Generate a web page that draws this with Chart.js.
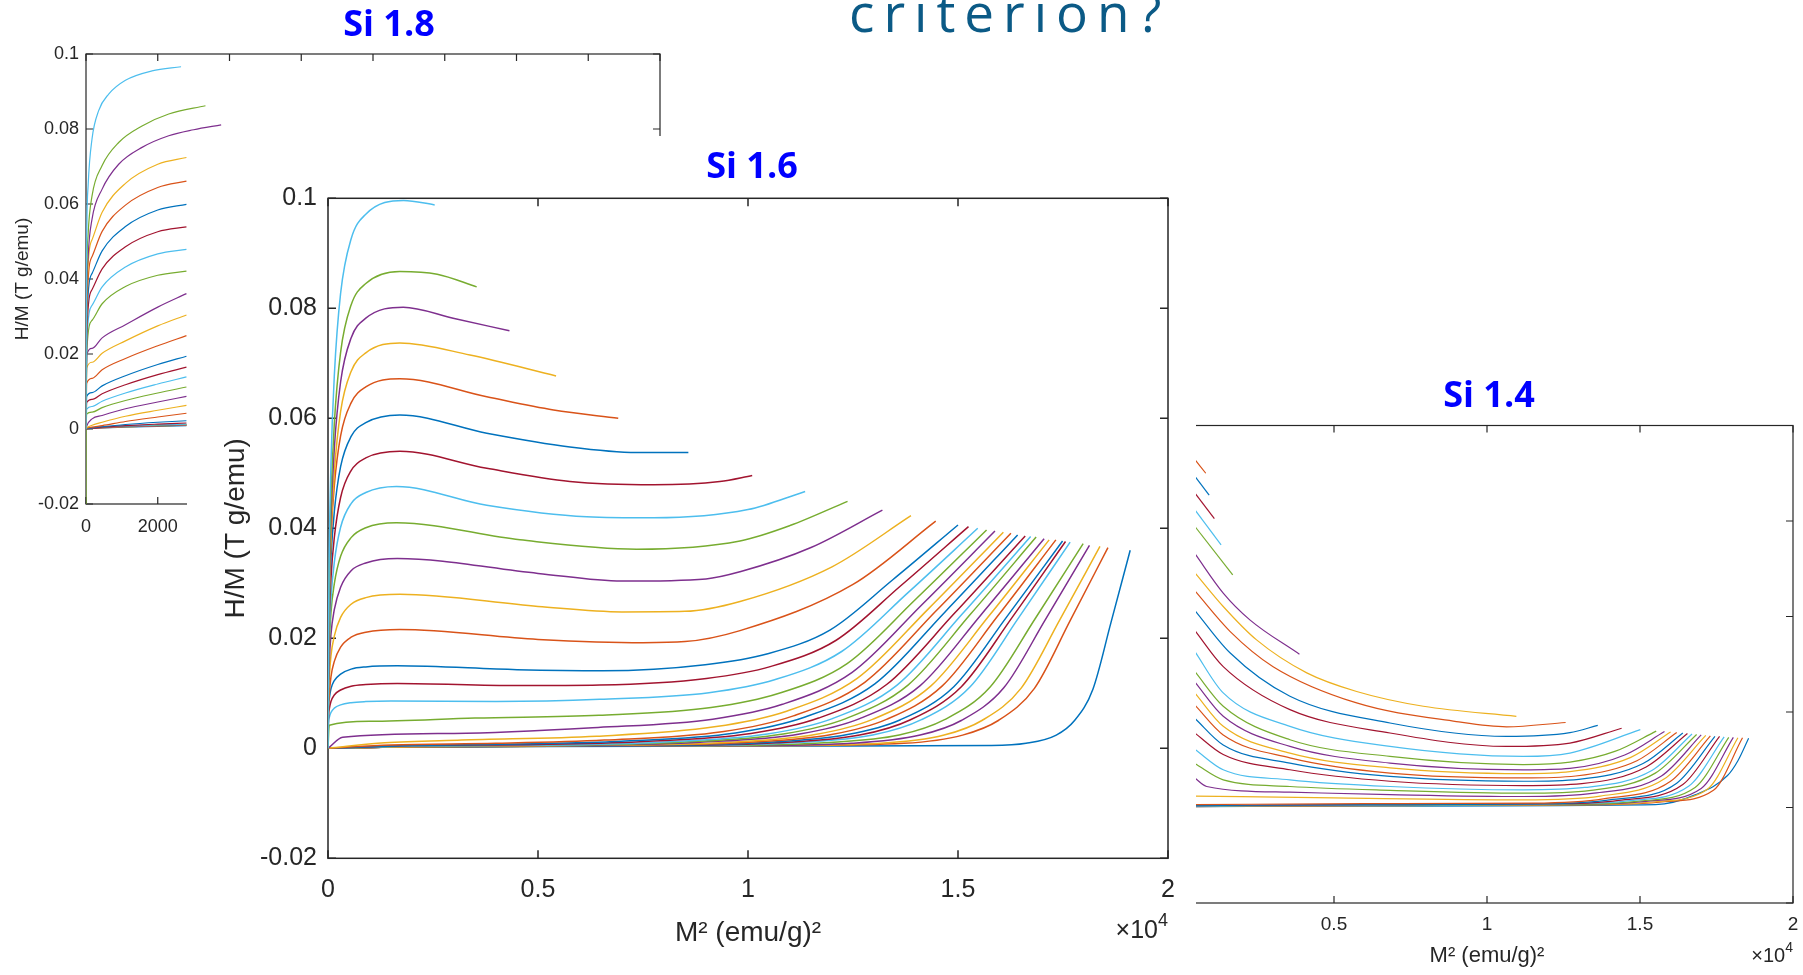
<!DOCTYPE html>
<html>
<head>
<meta charset="utf-8">
<title>Arrott plots - criterion?</title>
<script src="https://cdn.jsdelivr.net/npm/chart.js@4.4.1/dist/chart.umd.min.js"></script>
<style>
  html, body { margin: 0; padding: 0; background: #fff; }
  body { width: 1803px; height: 975px; position: relative; overflow: hidden; }
  .panel { position: absolute; background: #fff; overflow: hidden; }
  canvas { display: block; }
  #heading { position: absolute; left: 849px; top: -15px; font-family: 'Open Sans', sans-serif; font-size: 53px;
             line-height: 1; letter-spacing: 9px; color: #0b5a86; white-space: nowrap; }
</style>
</head>
<body>
<div id="heading">criterion?</div>
<div class="panel" style="left:0;top:0;width:778px;height:560px;z-index:1"><canvas id="c18" width="778" height="560"></canvas></div>
<div class="panel" style="left:187px;top:136px;width:1130px;height:839px;z-index:2"><canvas id="c16" width="1130" height="839"></canvas></div>
<div class="panel" style="left:1196px;top:370px;width:607px;height:605px;z-index:3"><canvas id="c14" width="778" height="605" style="position:absolute;left:-96px;top:0"></canvas></div>

<script>
// ---- data (curves listed from the top one downwards, as flat x,y pairs) ----

// Si 1.8 : x in (emu/g)^2, y in T g/emu
const si18XTicks = [0, 2000, 4000, 6000, 8000, 10000, 12000, 14000, 16000];
const si18YTicks = [-0.02, 0, 0.02, 0.04, 0.06, 0.08, 0.1];
const si18Curves = [
  [0,0, 15,0.045, 60,0.065, 167,0.0773, 353,0.0849, 632,0.0893, 1100,0.093, 1840,0.0955, 2650,0.0966],
  [0,0, 15,0.035, 60,0.052, 167,0.0621, 446,0.0702, 911,0.0764, 1562,0.0808, 2306,0.084, 3330,0.0862],
  [0,0, 15,0.03, 60,0.046, 167,0.0559, 446,0.0639, 911,0.0706, 1562,0.0751, 2306,0.0782, 3000,0.0798, 3767,0.0811],
  [0,0, 20,0.034, 170,0.0505, 450,0.0578, 1100,0.0655, 2000,0.0706, 2800,0.0724],
  [0,0, 20,0.031, 170,0.046, 450,0.0527, 1100,0.0597, 2000,0.0644, 2800,0.0661],
  [0,0, 20,0.028, 170,0.0415, 450,0.0475, 1100,0.054, 2000,0.0584, 2800,0.0599],
  [0,0, 20,0.025, 170,0.0372, 450,0.0427, 1100,0.0486, 2000,0.0526, 2800,0.0539],
  [0,0, 20,0.0225, 170,0.033, 450,0.0379, 1100,0.0432, 2000,0.0467, 2800,0.0479],
  [0,0, 20,0.0205, 170,0.029, 450,0.0334, 1100,0.038, 2000,0.041, 2800,0.0421],
  [0,0, 20,0.0198, 170,0.0215, 450,0.0243, 1100,0.0278, 2000,0.0325, 2800,0.0361],
  [0,0, 20,0.0163, 170,0.0178, 450,0.0202, 1100,0.0235, 2000,0.0275, 2800,0.0304],
  [0,0, 20,0.0122, 170,0.0135, 450,0.0158, 1100,0.0188, 2000,0.0222, 2800,0.0249],
  [0,0, 20,0.0087, 170,0.0097, 450,0.0115, 1100,0.0142, 2000,0.0172, 2800,0.0194],
  [0,0, 20,0.0071, 170,0.0079, 450,0.0094, 1100,0.0118, 2000,0.0145, 2800,0.0165],
  [0,0, 20,0.0053, 170,0.006, 450,0.0074, 1100,0.0096, 2000,0.012, 2800,0.0139],
  [0,0, 20,0.004, 170,0.0045, 450,0.0057, 1100,0.0076, 2000,0.0096, 2800,0.0112],
  [0,0, 20,0.0008, 170,0.0027, 450,0.0036, 1100,0.0054, 2000,0.0072, 2800,0.0087],
  [0,0, 20,0.0003, 170,0.001, 450,0.0018, 1100,0.0034, 2000,0.005, 2800,0.0063],
  [0,0, 20,0.0002, 170,0.0005, 450,0.0009, 1100,0.002, 2000,0.0032, 2800,0.0042],
  [0,0, 20,0.0001, 170,0.0003, 450,0.0006, 1100,0.0012, 2000,0.0018, 2800,0.0022],
  [0,0, 20,0.0001, 170,0.0002, 450,0.0005, 1100,0.0009, 2000,0.0013, 2800,0.0016],
  [0,0, 20,0.0001, 170,0.0003, 450,0.0005, 1100,0.0008, 2000,0.0011, 2800,0.0013],
  [0,-0.02, 1,0, 20,0.0001, 170,0.0003, 450,0.0005, 1100,0.0008, 2000,0.001, 2800,0.0012],
  [0,0, 20,0.0001, 170,0.0002, 450,0.0004, 1100,0.0007, 2000,0.0009, 2800,0.0011],
  [0,0, 20,0.0001, 170,0.0002, 450,0.0004, 1100,0.0006, 2000,0.0009, 2800,0.001],
  [0,0, 20,0.0001, 170,0.0002, 450,0.0003, 1100,0.0006, 2000,0.0008, 2800,0.001],
  [0,0, 20,0.0001, 170,0.0002, 450,0.0003, 1100,0.0005, 2000,0.0007, 2800,0.0009]
];

// Si 1.6 : x in units of 1e4 (emu/g)^2
const si16XTicks = [0, 0.5, 1, 1.5, 2];
const si16YTicks = [-0.02, 0, 0.02, 0.04, 0.06, 0.08, 0.1];
const si16Curves = [
  [0,0, 0.001,0.0199, 0.003,0.0359, 0.007,0.0518, 0.015,0.0677, 0.03,0.0827, 0.055,0.0926, 0.09,0.0971, 0.18,0.0996, 0.254,0.0988],
  [0,0, 0.001,0.0173, 0.003,0.0312, 0.007,0.0451, 0.015,0.059, 0.03,0.072, 0.055,0.0806, 0.09,0.0845, 0.171,0.0867, 0.26,0.0862, 0.354,0.0839],
  [0,0, 0.001,0.016, 0.003,0.0289, 0.007,0.0417, 0.015,0.0545, 0.03,0.0666, 0.055,0.0746, 0.09,0.0782, 0.179,0.0802, 0.298,0.0782, 0.432,0.0759],
  [0,0, 0.001,0.0147, 0.003,0.0265, 0.007,0.0383, 0.015,0.0501, 0.03,0.0612, 0.055,0.0685, 0.09,0.0719, 0.171,0.0737, 0.338,0.0715, 0.543,0.0677],
  [0,0, 0.001,0.0181, 0.003,0.0289, 0.007,0.0383, 0.015,0.0477, 0.03,0.0568, 0.055,0.0628, 0.09,0.0657, 0.171,0.0672, 0.378,0.0639, 0.537,0.0615, 0.691,0.06],
  [0,0, 0.001,0.0164, 0.003,0.0261, 0.007,0.0345, 0.015,0.043, 0.03,0.0512, 0.055,0.0567, 0.09,0.0592, 0.171,0.0606, 0.378,0.0573, 0.576,0.0548, 0.735,0.0538, 0.858,0.0538],
  [0,0, 0.001,0.0146, 0.003,0.0232, 0.007,0.0308, 0.015,0.0383, 0.03,0.0456, 0.055,0.0505, 0.09,0.0528, 0.171,0.054, 0.378,0.0509, 0.576,0.0485, 0.775,0.0479, 0.933,0.0485, 1.01,0.0496],
  [0,0, 0.001,0.0129, 0.003,0.0205, 0.007,0.0271, 0.015,0.0338, 0.03,0.0402, 0.055,0.0445, 0.09,0.0465, 0.163,0.0476, 0.378,0.0442, 0.616,0.0421, 0.775,0.0419, 1.0,0.0434, 1.136,0.0467],
  [0,0, 0.001,0.0123, 0.003,0.0185, 0.007,0.0246, 0.015,0.0299, 0.03,0.0349, 0.055,0.0383, 0.09,0.0401, 0.163,0.041, 0.457,0.0379, 0.735,0.0362, 0.981,0.0377, 1.1,0.0405, 1.237,0.0449],
  [0,0, 0.001,0.0104, 0.003,0.0155, 0.007,0.0207, 0.015,0.0252, 0.03,0.0293, 0.055,0.0323, 0.09,0.0337, 0.165,0.0345, 0.5,0.0318, 0.7,0.0304, 0.9,0.0308, 0.981,0.0321, 1.15,0.0365, 1.32,0.0433],
  [0,0, 0.001,0.0084, 0.003,0.0126, 0.007,0.0168, 0.015,0.0204, 0.03,0.0238, 0.055,0.0262, 0.09,0.0274, 0.171,0.028, 0.5,0.0258, 0.7,0.0248, 0.85,0.0249, 0.981,0.0267, 1.2,0.033, 1.388,0.0423],
  [0,0, 0.001,0.0065, 0.003,0.0097, 0.007,0.013, 0.015,0.0158, 0.03,0.0184, 0.055,0.0202, 0.09,0.0211, 0.171,0.0216, 0.5,0.0198, 0.75,0.0192, 0.85,0.0194, 0.981,0.0214, 1.25,0.0298, 1.447,0.0413],
  [0,0, 0.001,0.0068, 0.003,0.009, 0.007,0.0108, 0.015,0.0123, 0.03,0.0135, 0.055,0.0144, 0.09,0.0148, 0.165,0.015, 0.45,0.0143, 0.654,0.0141, 0.898,0.0152, 1.047,0.0172, 1.195,0.0215, 1.344,0.0306, 1.5,0.0406],
  [0,0, 0.001,0.0053, 0.003,0.0071, 0.007,0.0085, 0.015,0.0097, 0.03,0.0106, 0.055,0.0113, 0.09,0.0116, 0.165,0.0118, 0.45,0.0114, 0.647,0.0115, 0.901,0.0127, 1.055,0.0149, 1.209,0.0196, 1.363,0.0295, 1.525,0.0403],
  [0,0, 0.001,0.0043, 0.003,0.0056, 0.007,0.0065, 0.015,0.0073, 0.03,0.0079, 0.055,0.0083, 0.09,0.0085, 0.15,0.0086, 0.4,0.0085, 0.647,0.0089, 0.907,0.0101, 1.065,0.0125, 1.223,0.0176, 1.381,0.0283, 1.547,0.04],
  [0,0, 0.003,0.0042, 0.1,0.0049, 0.35,0.0055, 0.645,0.006, 0.912,0.0074, 1.074,0.01, 1.236,0.0154, 1.398,0.027, 1.568,0.0397],
  [0,0, 0.035,0.002, 0.3,0.0027, 0.643,0.0038, 0.916,0.0053, 1.082,0.008, 1.248,0.0138, 1.414,0.0261, 1.588,0.0395],
  [0,0, 0.135,0.001, 0.318,0.0015, 0.64,0.0022, 0.92,0.0039, 1.09,0.0067, 1.26,0.0127, 1.43,0.0254, 1.608,0.0393],
  [0,0, 0.15,0.0006, 0.4,0.0009, 0.658,0.0015, 0.938,0.003, 1.108,0.0059, 1.278,0.012, 1.448,0.025, 1.626,0.0391],
  [0,0, 0.2,0.0005, 0.45,0.0008, 0.697,0.0013, 0.97,0.0028, 1.136,0.0057, 1.302,0.0117, 1.468,0.0247, 1.642,0.0388],
  [0,0, 0.2,0.0005, 0.5,0.0007, 0.742,0.0012, 1.007,0.0027, 1.168,0.0055, 1.33,0.0116, 1.491,0.0245, 1.66,0.0386],
  [0,0, 0.2,0.0004, 0.55,0.0006, 0.791,0.0011, 1.046,0.0026, 1.201,0.0054, 1.355,0.0115, 1.51,0.0244, 1.673,0.0385],
  [0,0, 0.2,0.0004, 0.6,0.0006, 0.84,0.0011, 1.084,0.0026, 1.233,0.0054, 1.381,0.0115, 1.53,0.0244, 1.686,0.0384],
  [0,0, 0.2,0.0004, 0.65,0.0006, 0.886,0.0011, 1.123,0.0026, 1.266,0.0054, 1.41,0.0114, 1.554,0.0242, 1.705,0.0381],
  [0,0, 0.2,0.0003, 0.7,0.0006, 0.934,0.001, 1.16,0.0025, 1.298,0.0053, 1.435,0.0113, 1.573,0.024, 1.717,0.0379],
  [0,0, 0.2,0.0003, 0.75,0.0006, 0.981,0.001, 1.199,0.0025, 1.331,0.0053, 1.462,0.0113, 1.594,0.024, 1.733,0.0379],
  [0,0, 0.2,0.0003, 0.8,0.0005, 1.029,0.001, 1.237,0.0025, 1.363,0.0052, 1.49,0.0112, 1.616,0.0239, 1.749,0.0377],
  [0,0, 0.2,0.0003, 0.85,0.0005, 1.067,0.001, 1.266,0.0024, 1.387,0.0052, 1.508,0.0112, 1.629,0.0238, 1.756,0.0376],
  [0,0, 0.2,0.0003, 0.9,0.0005, 1.105,0.001, 1.297,0.0024, 1.413,0.0052, 1.529,0.0112, 1.645,0.0238, 1.767,0.0375],
  [0,0, 0.2,0.0003, 0.95,0.0005, 1.181,0.001, 1.36,0.0024, 1.468,0.0052, 1.576,0.0111, 1.684,0.0236, 1.798,0.0372],
  [0,0, 0.2,0.0003, 1.0,0.0005, 1.246,0.0009, 1.41,0.0024, 1.509,0.0051, 1.609,0.011, 1.708,0.0234, 1.813,0.0369],
  [0,0, 0.2,0.0003, 1.05,0.0005, 1.316,0.0009, 1.467,0.0024, 1.558,0.0051, 1.65,0.0109, 1.742,0.0233, 1.838,0.0367],
  [0,0, 0.2,0.0003, 1.1,0.0005, 1.371,0.0009, 1.511,0.0024, 1.597,0.0051, 1.682,0.0109, 1.767,0.0232, 1.857,0.0365],
  [0,0, 0.2,0.0003, 1.2,0.0004, 1.58,0.0005, 1.662,0.0009, 1.734,0.0024, 1.777,0.005, 1.821,0.0107, 1.864,0.0228, 1.91,0.036]
];

// Si 1.4 : x in units of 1e4 (emu/g)^2, left part of the plot is cropped in the picture
const si14XTicks = [0, 0.5, 1, 1.5, 2];
const si14YTicks = [-0.02, 0, 0.02, 0.04, 0.06, 0.08];
const si14Curves = [
  [0.045,0.0729, 0.081,0.07],
  [0.045,0.0694, 0.092,0.0654],
  [0.045,0.0659, 0.109,0.0605],
  [0.045,0.0624, 0.131,0.055],
  [0.045,0.0589, 0.169,0.0487],
  [0.045,0.0532, 0.138,0.0449, 0.225,0.0393, 0.387,0.0321],
  [0.045,0.0492, 0.138,0.0421, 0.247,0.0351, 0.411,0.0282, 0.574,0.0243, 0.792,0.0212, 1.096,0.0191],
  [0.045,0.0454, 0.16,0.0369, 0.301,0.0295, 0.574,0.0219, 0.9,0.018, 1.064,0.0169, 1.257,0.0178],
  [0.045,0.0413, 0.16,0.0324, 0.356,0.0233, 0.683,0.0177, 1.064,0.0149, 1.271,0.0157, 1.362,0.0172],
  [0.045,0.0371, 0.138,0.0295, 0.356,0.0205, 0.683,0.0156, 1.064,0.0128, 1.271,0.0135, 1.44,0.0166],
  [0.045,0.0327, 0.138,0.024, 0.356,0.017, 0.683,0.0128, 1.118,0.0107, 1.271,0.0114, 1.501,0.0163],
  [0.045,0.0285, 0.138,0.0212, 0.356,0.0142, 0.683,0.0107, 1.118,0.009, 1.271,0.0095, 1.42,0.0118, 1.553,0.016],
  [0.045,0.0263, 0.138,0.0191, 0.356,0.0128, 0.683,0.0093, 1.118,0.0079, 1.271,0.0082, 1.45,0.011, 1.58,0.0159],
  [0.045,0.024, 0.138,0.017, 0.356,0.0114, 0.683,0.0083, 1.118,0.0071, 1.271,0.0075, 1.47,0.0105, 1.6,0.0158],
  [0.045,0.0215, 0.138,0.0152, 0.356,0.0104, 0.683,0.0072, 1.118,0.0062, 1.29,0.0066, 1.49,0.0098, 1.62,0.0157],
  [0.045,0.0187, 0.138,0.0131, 0.356,0.0093, 0.683,0.0065, 1.118,0.0055, 1.3,0.0059, 1.51,0.0092, 1.64,0.0156],
  [0.045,0.0156, 0.138,0.0111, 0.356,0.0079, 0.683,0.0055, 1.118,0.0046, 1.31,0.005, 1.52,0.0085, 1.655,0.0155],
  [0.045,0.0122, 0.138,0.0079, 0.356,0.0058, 0.683,0.0044, 1.118,0.0037, 1.32,0.0042, 1.54,0.0078, 1.67,0.0154],
  [0.045,0.0092, 0.138,0.0058, 0.356,0.0044, 0.683,0.0036, 1.118,0.003, 1.34,0.0036, 1.55,0.0072, 1.685,0.0153],
  [0.045,0.0062, 0.084,0.0044, 0.356,0.0032, 0.683,0.0027, 1.118,0.0023, 1.35,0.003, 1.57,0.0066, 1.7,0.0152],
  [0.045,0.0024, 0.5,0.002, 1.118,0.0016, 1.37,0.0024, 1.58,0.006, 1.715,0.0151],
  [0.045,0.0006, 0.6,0.0008, 1.15,0.0009, 1.38,0.0018, 1.6,0.0055, 1.73,0.015],
  [0.045,0.0004, 0.6,0.0006, 1.2,0.0008, 1.4,0.0016, 1.62,0.0051, 1.745,0.0149],
  [0.045,0.0004, 0.6,0.0006, 1.25,0.0008, 1.43,0.0015, 1.64,0.0048, 1.76,0.0149],
  [0.045,0.0003, 0.6,0.0005, 1.28,0.0008, 1.46,0.0014, 1.66,0.0045, 1.775,0.0148],
  [0.045,0.0003, 0.6,0.0005, 1.3,0.0007, 1.49,0.0013, 1.68,0.0042, 1.79,0.0147],
  [0.045,0.0003, 0.6,0.0005, 1.33,0.0007, 1.52,0.0013, 1.7,0.004, 1.805,0.0147],
  [0.045,0.0003, 0.6,0.0004, 1.36,0.0006, 1.55,0.0012, 1.72,0.0038, 1.82,0.0146],
  [0.045,0.0002, 0.6,0.0004, 1.4,0.0006, 1.58,0.0012, 1.74,0.0036, 1.835,0.0146],
  [0.045,0.0002, 0.6,0.0003, 1.55,0.0006, 1.682,0.0027, 1.786,0.0067, 1.82,0.0098, 1.855,0.0145]
];

// ---- styling ----
const matlabOrder = ['#0072BD', '#D95319', '#EDB120', '#7E2F8E', '#77AC30', '#4DBEEE', '#A2142F'];
const tickFamily = "'Liberation Sans', Arial, Helvetica, sans-serif";
const titleFamily = "'Open Sans', 'Noto Sans', sans-serif";
const axisInk = '#262626';

// curves are listed top-down; MATLAB plotted them bottom-up through its colour order
function curveSets(curves, width) {
  const n = curves.length;
  return curves.map((flat, k) => {
    const pts = [];
    for (let i = 0; i < flat.length; i += 2) pts.push({ x: flat[i], y: flat[i + 1] });
    return {
      data: pts, borderColor: matlabOrder[(n - 1 - k) % 7], borderWidth: width,
      pointRadius: 0, showLine: true, fill: false, cubicInterpolationMode: 'monotone'
    };
  });
}

const fmt = v => String(parseFloat(Number(v).toFixed(4)));

// MATLAB style box: full frame with inward tick marks, plus the x10^4 exponent note
const matlabBox = {
  id: 'matlabBox',
  beforeDatasetsDraw(chart, args, o) {
    const { ctx, chartArea: a, scales: { x, y } } = chart;
    ctx.save();
    ctx.strokeStyle = axisInk;
    ctx.lineWidth = o.lineWidth;
    ctx.strokeRect(a.left, a.top, a.right - a.left, a.bottom - a.top);
    ctx.beginPath();
    x.ticks.forEach(t => {
      const px = x.getPixelForValue(t.value);
      ctx.moveTo(px, a.bottom); ctx.lineTo(px, a.bottom - o.tick);
      ctx.moveTo(px, a.top); ctx.lineTo(px, a.top + o.tick);
    });
    y.ticks.forEach(t => {
      const py = y.getPixelForValue(t.value);
      ctx.moveTo(a.left, py); ctx.lineTo(a.left + o.tick, py);
      ctx.moveTo(a.right, py); ctx.lineTo(a.right - o.tick, py);
    });
    ctx.stroke();
    ctx.restore();
  },
  afterDraw(chart, args, o) {
    if (!o.expo) return;
    const { ctx, chartArea: a } = chart;
    const big = o.expo.size, small = Math.round(o.expo.size * 0.72);
    ctx.save();
    ctx.fillStyle = axisInk;
    ctx.textAlign = 'right';
    ctx.textBaseline = 'alphabetic';
    ctx.font = small + 'px ' + tickFamily;
    const w4 = ctx.measureText('4').width;
    ctx.fillText('4', a.right, a.bottom + o.expo.dy - big * 0.5);
    ctx.font = big + 'px ' + tickFamily;
    ctx.fillText('\u00D710', a.right - w4, a.bottom + o.expo.dy);
    ctx.restore();
  }
};

function drawPanel(id, p) {
  return new Chart(document.getElementById(id), {
    type: 'scatter',
    data: { datasets: curveSets(p.curves, p.lineWidth) },
    options: {
      responsive: false, animation: false, devicePixelRatio: 1,
      plugins: {
        legend: { display: false },
        tooltip: { enabled: false },
        title: {
          display: true, text: p.title, color: '#0000FF',
          font: { family: titleFamily, size: p.titleSize, weight: 'bold', lineHeight: 1 },
          padding: p.titlePad
        },
        matlabBox: { lineWidth: p.frameWidth, tick: p.tickLen, expo: p.expo }
      },
      scales: {
        x: {
          type: 'linear', min: p.xTicks[0], max: p.xTicks[p.xTicks.length - 1],
          afterBuildTicks: s => { s.ticks = p.xTicks.map(v => ({ value: v })); },
          afterFit: s => { s.height = p.xHeight; },
          grid: { display: false, drawTicks: false }, border: { display: false },
          ticks: { display: true, autoSkip: false, maxRotation: 0, padding: p.xTickPad, color: axisInk,
                   font: { family: tickFamily, size: p.tickSize }, callback: v => fmt(v) },
          title: p.xTitle ? { display: true, text: p.xTitle, color: axisInk,
                   font: { family: tickFamily, size: p.xTitleSize, lineHeight: 1.2 },
                   padding: { top: 0, bottom: p.xTitlePad } } : { display: false }
        },
        y: {
          type: 'linear', min: p.yTicks[0], max: p.yTicks[p.yTicks.length - 1],
          afterBuildTicks: s => { s.ticks = p.yTicks.map(v => ({ value: v })); },
          afterFit: s => { s.width = p.yWidth; },
          grid: { display: false, drawTicks: false }, border: { display: false },
          ticks: { display: p.yLabels, autoSkip: false, padding: p.yTickPad, color: axisInk,
                   font: { family: tickFamily, size: p.tickSize }, callback: v => fmt(v) },
          title: p.yTitle ? { display: true, text: p.yTitle, color: axisInk,
                   font: { family: tickFamily, size: p.yTitleSize, lineHeight: 1.2 },
                   padding: { top: p.yTitlePad, bottom: 0 } } : { display: false }
        },
        // empty right-hand margin so the title stays centred on the whole figure
        margin: {
          type: 'linear', position: 'right', display: true,
          afterFit: s => { s.width = p.padRight; },
          grid: { display: false, drawTicks: false }, border: { display: false },
          ticks: { display: false }
        }
      }
    },
    plugins: [matlabBox]
  });
}

drawPanel('c18', {
  curves: si18Curves, xTicks: si18XTicks, yTicks: si18YTicks, lineWidth: 1.2,
  title: 'Si 1.8', titleSize: 36, titlePad: { top: 7.8, bottom: 10.2 },
  padRight: 118, yWidth: 86, xHeight: 56, tickSize: 18, xTickPad: 12, yTickPad: 7, yLabels: true,
  yTitle: 'H/M (T g/emu)', yTitleSize: 19, yTitlePad: 11.6, xTitle: null,
  frameWidth: 1.2, tickLen: 7, expo: null
});

drawPanel('c16', {
  curves: si16Curves, xTicks: si16XTicks, yTicks: si16YTicks, lineWidth: 1.5,
  title: 'Si 1.6', titleSize: 36, titlePad: { top: 14.1, bottom: 12.2 },
  padRight: 149, yWidth: 141, xHeight: 116.7, tickSize: 25, xTickPad: 16.5, yTickPad: 11, yLabels: true,
  yTitle: 'H/M (T g/emu)', yTitleSize: 28, yTitlePad: 32.2,
  xTitle: 'M\u00B2 (emu/g)\u00B2', xTitleSize: 28, xTitlePad: 24.5,
  frameWidth: 1.5, tickLen: 8, expo: { size: 25, dy: 80 }
});

drawPanel('c14', {
  curves: si14Curves, xTicks: si14XTicks, yTicks: si14YTicks, lineWidth: 1.2,
  title: 'Si 1.4', titleSize: 36, titlePad: { top: 8.5, bottom: 11 },
  padRight: 85, yWidth: 81, xHeight: 72, tickSize: 19, xTickPad: 10, yTickPad: 7, yLabels: false,
  yTitle: null, xTitle: 'M\u00B2 (emu/g)\u00B2', xTitleSize: 22, xTitlePad: 5.8,
  frameWidth: 1.2, tickLen: 7, expo: { size: 20, dy: 59 }
});
</script>
</body>
</html>
